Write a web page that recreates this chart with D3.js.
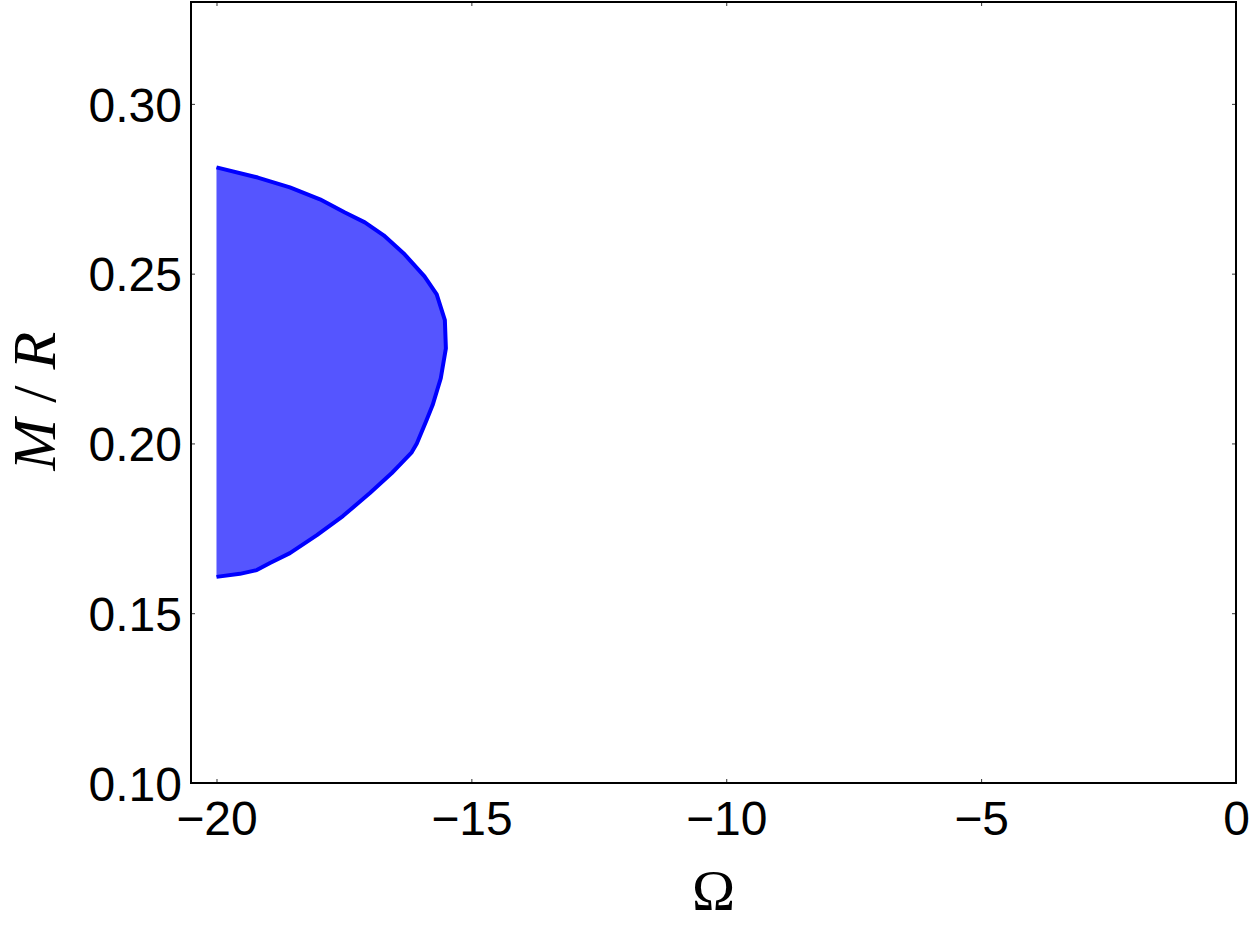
<!DOCTYPE html>
<html>
<head>
<meta charset="utf-8">
<script src="https://cdn.jsdelivr.net/npm/d3@7"></script>
<style>
  html, body { margin: 0; padding: 0; background: #fff; }
  svg { display: block; }
</style>
</head>
<body>
<svg id="chart" width="1250" height="934"></svg>
<script>
// Boundary of the shaded region (Omega, M/R)
const omega = [-20.0, -19.19, -18.56, -17.97, -17.48, -17.09, -16.72, -16.31, -15.92, -15.68, -15.52, -15.50, -15.60, -15.76, -15.88, -16.07, -16.17, -16.41, -16.56, -16.99, -17.52, -18.03, -18.56, -18.95, -19.21, -19.54, -20.0];
const mr    = [0.2813, 0.2783, 0.2754, 0.2719, 0.2680, 0.2651, 0.2613, 0.2557, 0.2492, 0.2439, 0.2363, 0.2280, 0.2192, 0.2113, 0.2068, 0.2000, 0.1974, 0.1936, 0.1913, 0.1854, 0.1786, 0.1730, 0.1677, 0.1648, 0.1627, 0.1616, 0.1607];

const xTicks = [-20, -15, -10, -5, 0];
const xTickLabels = ["\u221220", "\u221215", "\u221210", "\u22125", "0"];
const yTicks = [0.10, 0.15, 0.20, 0.25, 0.30];
const yTickLabels = ["0.10", "0.15", "0.20", "0.25", "0.30"];
const xDomain = [-20.5, 0];
const yDomain = [0.10, 0.33];

(function () {
const svg = d3.select("#chart");
const L = 191, R = 1236, T = 2, B = 783;

const x = d3.scaleLinear().domain(xDomain).range([L, R]);
const y = d3.scaleLinear().domain(yDomain).range([B, T]);

const pts = omega.map((o, i) => [o, mr[i]]);
const line = d3.line().x(d => x(d[0])).y(d => y(d[1]));

// Filled region
svg.append("path")
  .attr("d", line(pts) + "Z")
  .attr("fill", "#5555ff")
  .attr("stroke", "none");

// Boundary curve
svg.append("path")
  .attr("d", line(pts))
  .attr("fill", "none")
  .attr("stroke", "#0000ff")
  .attr("stroke-width", 4)
  .attr("stroke-linejoin", "round");

// Axes (ticks inward, on all four sides)
const tickLen = 4;
const font = "'Liberation Sans', Arial, sans-serif";

const gBottom = svg.append("g").attr("transform", `translate(0,${B})`)
  .call(d3.axisBottom(x).tickValues(xTicks).tickSizeInner(-tickLen).tickSizeOuter(0)
    .tickFormat((d, i) => xTickLabels[i]).tickPadding(18));
const gTop = svg.append("g").attr("transform", `translate(0,${T})`)
  .call(d3.axisTop(x).tickValues(xTicks).tickSizeInner(-tickLen).tickSizeOuter(0).tickFormat(""));
const gLeft = svg.append("g").attr("transform", `translate(${L},0)`)
  .call(d3.axisLeft(y).tickValues(yTicks).tickSizeInner(-tickLen).tickSizeOuter(0)
    .tickFormat((d, i) => yTickLabels[i]).tickPadding(9));
const gRight = svg.append("g").attr("transform", `translate(${R},0)`)
  .call(d3.axisRight(y).tickValues(yTicks).tickSizeInner(-tickLen).tickSizeOuter(0).tickFormat(""));

[gBottom, gTop, gLeft, gRight].forEach(g => {
  g.select(".domain").remove();
  g.selectAll(".tick line").attr("stroke", "#333").attr("stroke-width", 1);
  g.selectAll(".tick text").attr("font-family", font).attr("font-size", 48).attr("fill", "#000");
});
gBottom.selectAll(".tick text").attr("dy", "0.71em");
gLeft.selectAll(".tick text").attr("dy", "0.36em");

// Frame
svg.append("rect")
  .attr("x", L).attr("y", T).attr("width", R - L).attr("height", B - T)
  .attr("fill", "none").attr("stroke", "#000").attr("stroke-width", 2);

// Axis labels
svg.append("text")
  .attr("x", (L + R) / 2).attr("y", 910)
  .attr("text-anchor", "middle")
  .attr("font-family", "'Liberation Serif', 'Times New Roman', serif")
  .attr("font-size", 58)
  .text("\u03A9");

const yl = svg.append("text")
  .attr("transform", `translate(55,401) rotate(-90)`)
  .attr("text-anchor", "middle")
  .attr("font-family", "'Liberation Serif', 'Times New Roman', serif")
  .attr("font-size", 62);
yl.append("tspan").attr("font-style", "italic").text("M");
yl.append("tspan").attr("dx", 16).text("/");
yl.append("tspan").attr("dx", 16).attr("font-style", "italic").text("R");
})();
</script>
</body>
</html>
